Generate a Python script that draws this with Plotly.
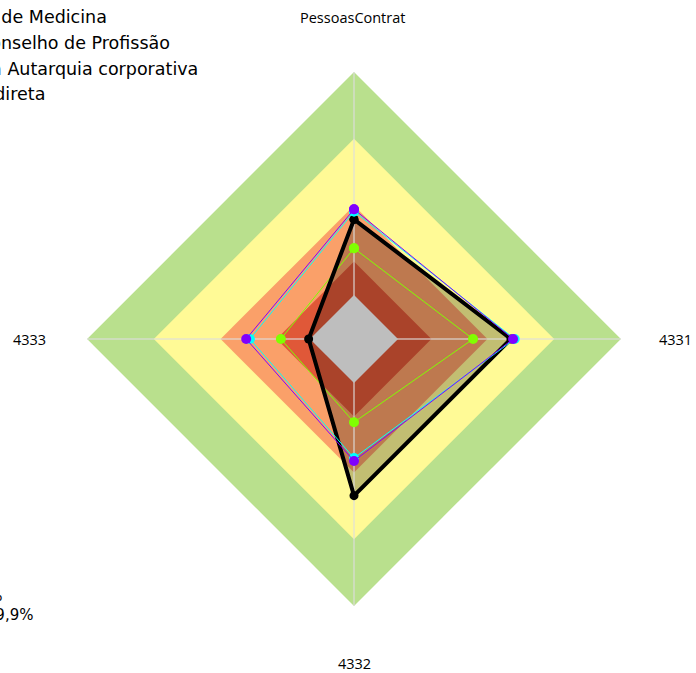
import plotly.graph_objects as go

# Axes of the radar, clockwise from the top
axes = ["PessoasContrat", "4331", "4332", "4333"]

# Reference zones: outer edge of each zone and its colour
band_limits = [100, 75, 50, 29, 16.5]
band_colors = ["#B9E08D", "#FFFA96", "#FAA069", "#E05838", "#BEBEBE"]

# Series values (%)
entity = [44.8, 58.8, 58.7, 17.0]
conselho_prof = [34.0, 44.6, 31.2, 27.4]
autarquia = [47.8, 60.2, 44.6, 39.0]
indireta = [48.6, 59.6, 45.7, 40.4]

series_names = ["C. de Medicina", "Conselho de Profissão",
                "Na Autarquia corporativa", "Indireta"]

side_notes = ["Média: 42,5%", "Máximo: 59,9%"]

R_MAX = 112.4
closed_axes = axes + axes[:1]

LEGEND_FONT = "DejaVu Sans"
TICK_FONT = "Open Sans"


def closed(values):
    return list(values) + [values[0]]


fig = go.Figure()

# Coloured zones (all but the grey core, which sits above the entity fill)
for lim, col in zip(band_limits[:-1], band_colors[:-1]):
    fig.add_trace(go.Scatterpolar(
        r=[lim] * len(closed_axes), theta=closed_axes, mode="lines",
        fill="toself", fillcolor=col, line=dict(width=0, color=col),
        hoverinfo="skip", showlegend=False))

# Translucent area of the highlighted entity
fig.add_trace(go.Scatterpolar(
    r=closed(entity), theta=closed_axes, mode="lines", fill="toself",
    fillcolor="rgba(0,0,0,0.24)", line=dict(width=0, color="rgba(0,0,0,0)"),
    hoverinfo="skip", showlegend=False))

# Spokes
for a in axes:
    fig.add_trace(go.Scatterpolar(
        r=[0, band_limits[0]], theta=[a, a], mode="lines",
        line=dict(color="rgba(222,222,222,0.75)", width=1.5),
        hoverinfo="skip", showlegend=False))

# Grey core
fig.add_trace(go.Scatterpolar(
    r=[band_limits[-1]] * len(closed_axes), theta=closed_axes, mode="lines",
    fill="toself", fillcolor=band_colors[-1],
    line=dict(width=0, color=band_colors[-1]),
    hoverinfo="skip", showlegend=False))

# Comparison series and highlighted entity
fig.add_trace(go.Scatterpolar(
    r=closed(conselho_prof), theta=closed_axes, mode="lines+markers",
    name=series_names[1], legendrank=2,
    line=dict(color="#80FF00", width=1), marker=dict(color="#80FF00", size=10)))

fig.add_trace(go.Scatterpolar(
    r=closed(entity), theta=closed_axes, mode="lines+markers",
    name=series_names[0], legendrank=1,
    line=dict(color="black", width=4), marker=dict(color="black", size=9)))

fig.add_trace(go.Scatterpolar(
    r=closed(autarquia), theta=closed_axes, mode="lines+markers",
    name=series_names[2], legendrank=3,
    line=dict(color="#00FFFF", width=1), marker=dict(color="#00FFFF", size=10)))

fig.add_trace(go.Scatterpolar(
    r=closed(indireta), theta=closed_axes, mode="lines+markers",
    name=series_names[3], legendrank=4,
    line=dict(color="#8000FF", width=1), marker=dict(color="#8000FF", size=10)))

# Plot area (pixels) -> polar centre and radius
L, T, W, H = 54, 39, 600, 600
CX, CY, RAD = L + W / 2, T + H / 2, W / 2


def px_to_paper(x, y):
    return (x - L) / W, (T + H - y) / H


# Axis names placed around the radar
label_specs = [
    (axes[0], CX - 2, CY - RAD - 22, "center"),
    (axes[1], CX + RAD + 3, CY, "left"),
    (axes[2], CX, CY + RAD + 24, "center"),
    (axes[3], CX - RAD - 6, CY, "right"),
]
annotations = []
for text, x, y, anchor in label_specs:
    px, py = px_to_paper(x, y)
    annotations.append(dict(text=text, xref="paper", yref="paper", x=px, y=py,
                            xanchor=anchor, yanchor="middle", showarrow=False,
                            font=dict(family=TICK_FONT, size=14.5, color="black")))

# Summary notes at the lower left
for text, x_end, y in [(side_notes[0], 5, 596), (side_notes[1], 35, 615)]:
    px, py = px_to_paper(x_end, y)
    annotations.append(dict(text=text, xref="paper", yref="paper", x=px, y=py,
                            xanchor="right", yanchor="middle", showarrow=False,
                            font=dict(family=LEGEND_FONT, size=15, color="black")))

lx, ly = px_to_paper(-62, -1.7)

fig.update_layout(
    width=696, height=673,
    margin=dict(l=L, r=696 - L - W, t=T, b=673 - T - H, autoexpand=False),
    paper_bgcolor="white",
    font=dict(family=TICK_FONT, color="black"),
    polar=dict(
        bgcolor="white", gridshape="linear",
        radialaxis=dict(visible=False, range=[0, R_MAX]),
        angularaxis=dict(type="category", categoryarray=axes,
                         direction="clockwise", rotation=90,
                         showgrid=False, showline=False, ticks="",
                         showticklabels=False),
    ),
    showlegend=True,
    legend=dict(x=lx, xanchor="left", y=ly, yanchor="top",
                font=dict(family=LEGEND_FONT, size=17.5, color="black"),
                bgcolor="rgba(0,0,0,0)", traceorder="normal"),
    annotations=annotations,
)

fig.write_html("out.html")
